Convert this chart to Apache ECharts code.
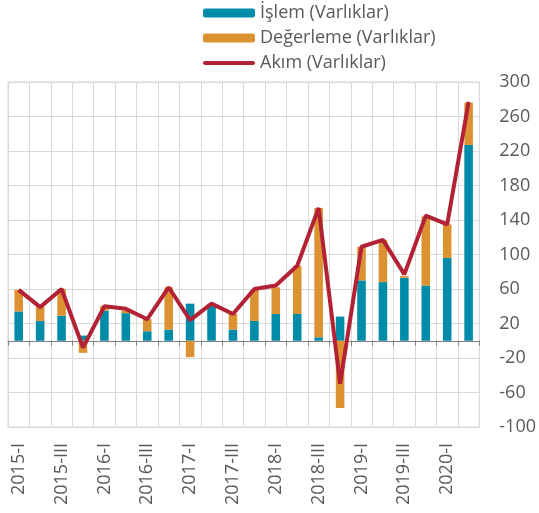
<!DOCTYPE html>
<html>
<head>
<meta charset="utf-8">
<script src="https://cdn.jsdelivr.net/npm/echarts@6/dist/echarts.min.js"></script>
<style>
html,body{margin:0;padding:0;background:#fff;}
#c{width:539px;height:513px;}
</style>
</head>
<body>
<div id="c"></div>
<script>
const categories = ['2015-I','2015-II','2015-III','2015-IV','2016-I','2016-II','2016-III','2016-IV','2017-I','2017-II','2017-III','2017-IV','2018-I','2018-II','2018-III','2018-IV','2019-I','2019-II','2019-III','2019-IV','2020-I','2020-II'];
const islem = [34, 23, 29, 6, 35, 32, 11, 13, 43, 41, 13, 23, 31, 31, 4, 28, 70, 68, 73, 64, 96, 227];
const degerleme = [25, 16, 31, -14, 5, 3, 14, 49, -19, 2, 18, 36, 31, 56, 150, -78, 39, 49, 2, 80, 39, 49];
const akim = [59, 39, 60, -8, 40, 37, 25, 62, 24, 43, 31, 60, 64, 87, 154, -50, 109, 117, 77, 145, 135, 277];
const yTicks = { min: -100, max: 300, interval: 40 };

const FONT = "'Open Sans', 'Liberation Sans', sans-serif";
const TXT = '#595959';
const GRIDC = '#D9D9D9';

const chart = echarts.init(document.getElementById('c'));
chart.setOption({
  animation: false,
  textStyle: { fontFamily: FONT },
  legend: {
    orient: 'vertical',
    left: 203,
    top: 4,
    padding: 0,
    itemWidth: 52,
    itemHeight: 9,
    itemGap: 7,
    textStyle: { fontFamily: FONT, fontSize: 18, color: TXT, lineHeight: 18 },
    data: [
      'İşlem (Varlıklar)',
      'Değerleme (Varlıklar)',
      { name: 'Akım (Varlıklar)', icon: 'path://M2,0 L50,0 A2,2 0 0 1 50,4 L2,4 A2,2 0 0 1 2,0 Z' }
    ]
  },
  grid: { left: 8, right: 59, top: 82, bottom: 86, show: true, borderColor: GRIDC, borderWidth: 1 },
  xAxis: [
    {
      type: 'category',
      data: categories,
      position: 'bottom',
      boundaryGap: true,
      axisLine: { onZero: false, show: true, lineStyle: { color: GRIDC } },
      axisTick: { show: false },
      splitLine: { show: true, interval: 0, lineStyle: { color: GRIDC, width: 1 } },
      axisLabel: { interval: 1, rotate: 90, color: TXT, fontSize: 18, fontFamily: FONT, margin: 16 }
    },
    {
      type: 'category',
      data: categories,
      position: 'top',
      boundaryGap: true,
      axisLine: { show: true, onZero: true, lineStyle: { color: '#808080', width: 1 } },
      axisTick: { show: true, inside: true, interval: 0, length: 5, lineStyle: { color: '#808080' } },
      axisLabel: { show: false },
      splitLine: { show: false }
    }
  ],
  yAxis: {
    type: 'value',
    position: 'right',
    min: yTicks.min,
    max: yTicks.max,
    interval: yTicks.interval,
    axisLine: { show: false },
    axisTick: { show: false },
    splitLine: { show: true, lineStyle: { color: GRIDC, width: 1 } },
    axisLabel: { color: TXT, fontSize: 18, fontFamily: FONT, margin: 20, align: 'left' }
  },
  series: [
    {
      name: 'İşlem (Varlıklar)',
      type: 'bar',
      stack: 'v',
      barWidth: '40%',
      itemStyle: { color: '#008BA8' },
      data: islem
    },
    {
      name: 'Değerleme (Varlıklar)',
      type: 'bar',
      stack: 'v',
      barWidth: '40%',
      itemStyle: { color: '#DD9232' },
      data: degerleme
    },
    {
      name: 'Akım (Varlıklar)',
      type: 'line',
      symbol: 'none',
      lineStyle: { color: '#B22234', width: 4 },
      itemStyle: { color: '#B22234' },
      z: 5,
      data: akim
    }
  ]
});
</script>
</body>
</html>
